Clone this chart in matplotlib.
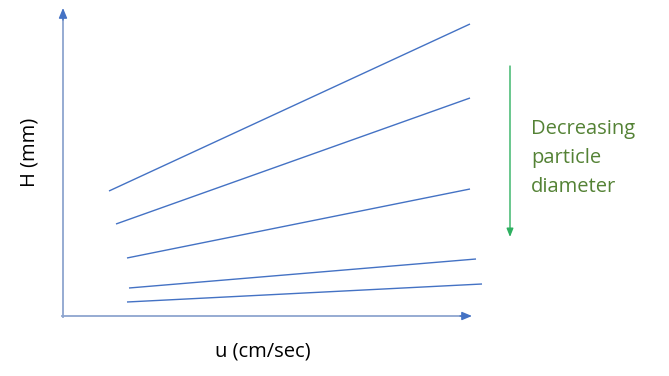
import matplotlib
matplotlib.use("Agg")
import matplotlib.pyplot as plt

# schematic lines (pixel coordinates of the reference sketch, y downward)
line_x0 = [109, 116, 127, 129, 127]
line_y0 = [191, 224, 258, 288, 302]
line_x1 = [470, 470, 470, 476, 482]
line_y1 = [24, 98, 189, 259, 284]

x_label = "u (cm/sec)"
y_label = "H (mm)"
note = "Decreasing\nparticle\ndiameter"

W, H = 669, 376
fig = plt.figure(figsize=(W / 100, H / 100), dpi=100)
ax = fig.add_axes([0, 0, 1, 1])
ax.set_xlim(0, W)
ax.set_ylim(H, 0)
ax.axis("off")

blue = "#4472C4"
axis_col = "#8EA5CF"
head = "-|>,head_length=0.6,head_width=0.25"

# axes: thin shaft + blue arrow head
ax.plot([63, 63], [317, 14], color=axis_col, lw=1.3)
ax.plot([62, 466], [316, 316], color=axis_col, lw=1.3)
ax.annotate("", xy=(63, 8), xytext=(63, 20),
            arrowprops=dict(arrowstyle=head, color=blue, lw=1.0,
                            shrinkA=0, shrinkB=0))
ax.annotate("", xy=(472, 316), xytext=(460, 316),
            arrowprops=dict(arrowstyle=head, color=blue, lw=1.0,
                            shrinkA=0, shrinkB=0))

for x0, y0, x1, y1 in zip(line_x0, line_y0, line_x1, line_y1):
    ax.plot([x0, x1], [y0, y1], color=blue, lw=1.0, solid_capstyle="butt")

# decreasing arrow
ax.annotate("", xy=(510, 237), xytext=(510, 66),
            arrowprops=dict(arrowstyle="-|>,head_length=0.5,head_width=0.2",
                            color="#2EB060", lw=1.0, shrinkA=0, shrinkB=0))

ax.text(531, 158, note, color="#548235", fontsize=14.5, family="Open Sans",
        va="center", ha="left", linespacing=1.6)
ax.text(263, 351, x_label, color="black", fontsize=14.5, family="Open Sans",
        va="center", ha="center")
ax.text(30, 152, y_label, color="black", fontsize=14.5, family="Open Sans",
        va="center", ha="center", rotation=90)

fig.savefig("out.png", dpi=100)
